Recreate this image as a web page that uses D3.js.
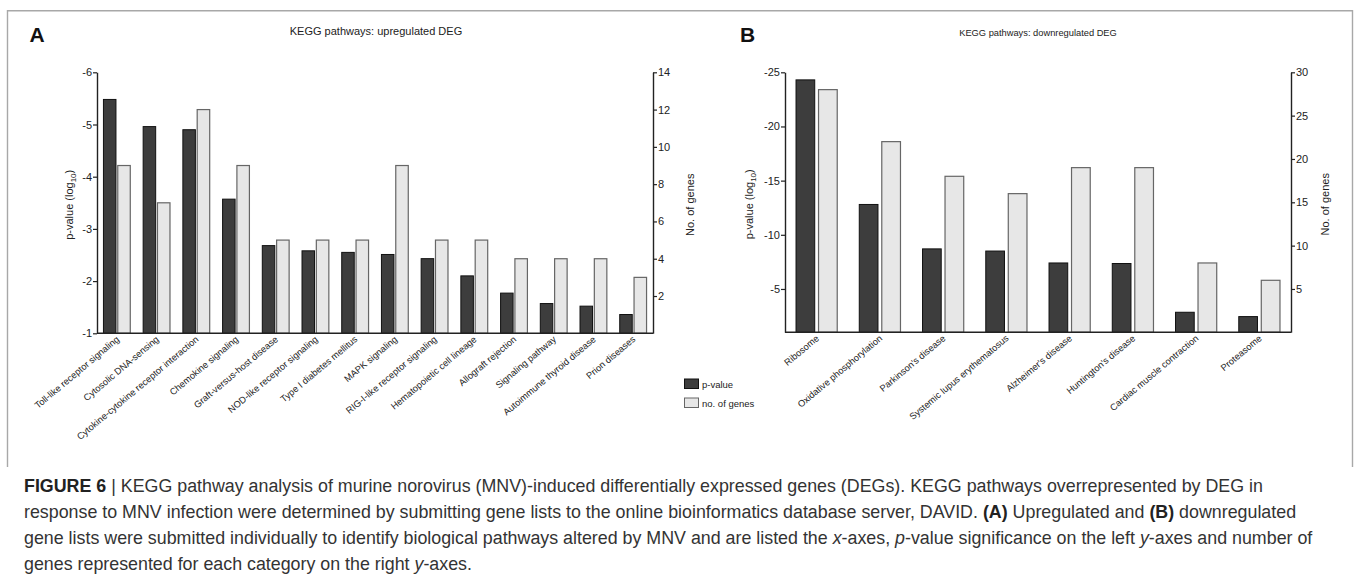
<!DOCTYPE html>
<html><head><meta charset="utf-8">
<script src="https://cdn.jsdelivr.net/npm/d3@7"></script>
<style>body{margin:0;background:#fff} svg{display:block}</style>
</head><body>
<svg id="chart" width="1354" height="577"></svg>
<script>
// ---------- data ----------
const categoriesA = ["Toll-like receptor signaling","Cytosolic DNA-sensing","Cytokine-cytokine receptor interaction","Chemokine signaling","Graft-versus-host disease","NOD-like receptor signaling","Type I diabetes mellitus","MAPK signaling","RIG-I-like receptor signaling","Hematopoietic cell lineage","Allograft rejection","Signaling pathway","Autoimmune thyroid disease","Prion diseases"];
const pValuesA = [-5.48,-4.96,-4.90,-3.57,-2.68,-2.58,-2.55,-2.51,-2.43,-2.10,-1.77,-1.57,-1.52,-1.36];
const genesA = [9,7,12,9,5,5,5,9,5,5,4,4,4,3];

const categoriesB = ["Ribosome","Oxidative phosphorylation","Parkinson's disease","Systemic lupus erythematosus","Alzheimer's disease","Huntington's disease","Cardiac muscle contraction","Proteasome"];
const pValuesB = [-24.3,-12.8,-8.7,-8.5,-7.4,-7.35,-2.85,-2.45];
const genesB = [28,22,18,16,19,19,8,6];

const pTicksA = [-6,-5,-4,-3,-2,-1];
const geneTicksA = [2,4,6,8,10,12,14];
const pTicksB = [-25,-20,-15,-10,-5];
const geneTicksB = [5,10,15,20,25,30];
const legendLabels = ["p-value","no. of genes"];

const captionLines = [
  [["FIGURE 6","b"],[" | KEGG pathway analysis of murine norovirus (MNV)-induced differentially expressed genes (DEGs). KEGG pathways overrepresented by DEG in",""]],
  [["response to MNV infection were determined by submitting gene lists to the online bioinformatics database server, DAVID. ",""],["(A)","b"],[" Upregulated and ",""],["(B)","b"],[" downregulated",""]],
  [["gene lists were submitted individually to identify biological pathways altered by MNV and are listed the ",""],["x","i"],["-axes, ",""],["p","i"],["-value significance on the left ",""],["y","i"],["-axes and number of",""]],
  [["genes represented for each category on the right ",""],["y","i"],["-axes.",""]]
];

// ---------- drawing ----------
const FONT = "'Liberation Sans', Arial, Helvetica, sans-serif";
const DARK = "#3d3d3d", LIGHT = "#e7e7e7";
const svg = d3.select("#chart");
svg.append("rect").attr("width",1354).attr("height",577).attr("fill","#fff");

// frame
svg.append("path")
  .attr("d","M7.5,467 V10.7 H1352.5 V467")
  .attr("fill","none").attr("stroke","#a8a8a8").attr("stroke-width",1.4);

const hyphenFmt = d => String(d);

function panel(cfg) {
  const g = svg.append("g").attr("font-family", FONT).attr("fill","#222");
  const x = d3.scaleBand().domain(cfg.categories).range([cfg.x0, cfg.x1]);
  const sub = d3.scaleBand().domain(["p","g"]).range([0, x.bandwidth()])
      .paddingInner(cfg.padIn).paddingOuter(cfg.padOut);
  const yL = d3.scaleLinear().domain(cfg.pDomain).range([cfg.yBot, cfg.yTop]);
  const yR = d3.scaleLinear().domain(cfg.gDomain).range([cfg.yBot, cfg.yTop]);

  // bars
  const grp = g.selectAll("g.cat").data(cfg.categories).join("g")
    .attr("transform", c => `translate(${x(c)},0)`);
  grp.append("rect")
    .attr("x", sub("p")).attr("width", sub.bandwidth())
    .attr("y", (c,i) => yL(cfg.pValues[i]))
    .attr("height", (c,i) => cfg.yBot - yL(cfg.pValues[i]))
    .attr("fill", DARK).attr("stroke", "#111").attr("stroke-width", 1);
  grp.append("rect")
    .attr("x", sub("g")).attr("width", sub.bandwidth())
    .attr("y", (c,i) => yR(cfg.genes[i]))
    .attr("height", (c,i) => cfg.yBot - yR(cfg.genes[i]))
    .attr("fill", LIGHT).attr("stroke", "#666").attr("stroke-width", 1.2);

  // axes
  const axL = g.append("g").attr("transform", `translate(${cfg.x0},0)`)
    .call(d3.axisLeft(yL).tickValues(cfg.pTicks).tickSize(4).tickSizeOuter(0).tickPadding(1).tickFormat(hyphenFmt));
  const axR = g.append("g").attr("transform", `translate(${cfg.x1},0)`)
    .call(d3.axisRight(yR).tickValues(cfg.gTicks).tickSize(4).tickSizeOuter(0).tickPadding(1).tickFormat(hyphenFmt));
  [axL, axR].forEach(a => {
    a.select(".domain").attr("stroke","#222").attr("stroke-width",1.4);
    a.selectAll(".tick line").attr("stroke","#222").attr("stroke-width",1.2);
    a.selectAll(".tick text").attr("font-family", FONT).attr("font-size", cfg.tickFont).attr("fill","#222");
  });
  g.append("line").attr("x1", cfg.x0).attr("x2", cfg.x1).attr("y1", cfg.yBot).attr("y2", cfg.yBot)
    .attr("stroke","#222").attr("stroke-width",1.4);

  // category labels
  g.selectAll("text.cat").data(cfg.categories).join("text")
    .attr("transform", c => `translate(${x(c) + x.bandwidth()/2 + 3},${cfg.yBot + 7}) rotate(-40)`)
    .attr("text-anchor","end").attr("font-size", cfg.catFont).attr("fill","#222")
    .text(c => c);

  // axis titles
  const lt = g.append("text")
    .attr("transform", `translate(${cfg.leftTitleX},${(cfg.yTop+cfg.yBot)/2 + 2}) rotate(-90)`)
    .attr("text-anchor","middle").attr("font-size", 11).attr("fill","#222");
  lt.append("tspan").text("p-value (log");
  lt.append("tspan").attr("font-size", 8).attr("dy", 3).text("10");
  lt.append("tspan").attr("dy", -3).text(")");
  g.append("text")
    .attr("transform", `translate(${cfg.rightTitleX},${(cfg.yTop+cfg.yBot)/2 + 2}) rotate(-90)`)
    .attr("text-anchor","middle").attr("font-size", 11).attr("fill","#222")
    .text("No. of genes");

  // title and panel letter
  g.append("text").attr("x", cfg.titleX).attr("y", cfg.titleY).attr("text-anchor","middle")
    .attr("font-size", cfg.titleFont).attr("fill","#222").text(cfg.title);
  g.append("text").attr("x", cfg.letterX).attr("y", 41.5).attr("font-size", 21)
    .attr("font-weight","bold").attr("fill","#111").text(cfg.letter);
}

panel({
  categories: categoriesA, pValues: pValuesA, genes: genesA,
  x0: 97, x1: 653, yTop: 72.3, yBot: 333.3,
  pDomain: [-1,-6], gDomain: [0,14], pTicks: pTicksA, gTicks: geneTicksA,
  padIn: 0.126, padOut: 0.45, catFont: 9.3, tickFont: 11,
  leftTitleX: 73, rightTitleX: 694,
  title: "KEGG pathways: upregulated DEG", titleX: 376, titleY: 35, titleFont: 11,
  letter: "A", letterX: 29.5
});
panel({
  categories: categoriesB, pValues: pValuesB, genes: genesB,
  x0: 785, x1: 1291, yTop: 72.3, yBot: 332.3,
  pDomain: [-1,-25], gDomain: [0,30], pTicks: pTicksB, gTicks: geneTicksB,
  padIn: 0.169, padOut: 0.49, catFont: 9.3, tickFont: 11,
  leftTitleX: 753, rightTitleX: 1329,
  title: "KEGG pathways: downregulated DEG", titleX: 1038, titleY: 35.5, titleFont: 9.3,
  letter: "B", letterX: 740
});

// legend
const leg = svg.append("g").attr("font-family", FONT);
legendLabels.forEach((lab, i) => {
  const y = 379 + i * 19;
  leg.append("rect").attr("x", 684.5).attr("y", y).attr("width", 14).attr("height", 9.5)
    .attr("fill", i === 0 ? DARK : LIGHT).attr("stroke", i === 0 ? "#111" : "#666").attr("stroke-width", 1);
  leg.append("text").attr("x", 702).attr("y", y + 8.5).attr("font-size", 9.5).attr("fill","#222").text(lab);
});

// caption
const cap = svg.append("g").attr("font-family", FONT).attr("fill","#333");
const capTexts = captionLines.map((segs, li) => {
  const t = cap.append("text").attr("x", 24).attr("y", 492 + li * 26).attr("font-size", 16);
  segs.forEach(([s, st]) => {
    const ts = t.append("tspan").text(s);
    if (st === "b") ts.attr("font-weight","bold").attr("fill","#222");
    if (st === "i") ts.attr("font-style","italic");
  });
  return t;
});
const w1 = capTexts[0].node().getComputedTextLength();
const fs = 16 * 1240 / w1;
capTexts.forEach(t => t.attr("font-size", fs));
</script>
</body></html>
